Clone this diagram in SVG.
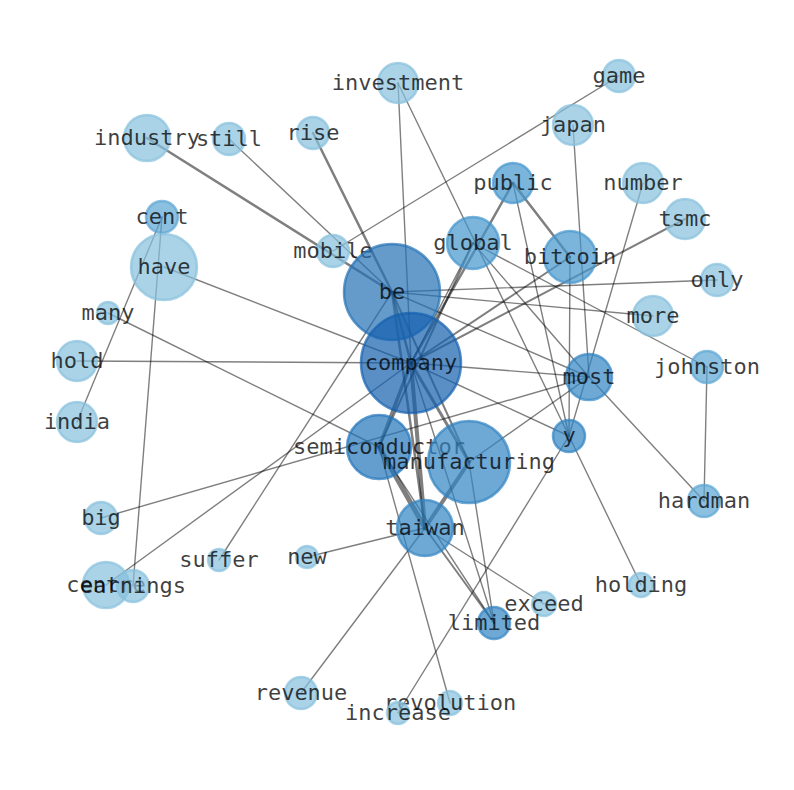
<svg xmlns="http://www.w3.org/2000/svg" width="794" height="790" viewBox="0 0 794 790">
<style>
.e line{stroke:#000;stroke-opacity:.5;stroke-width:1.4;stroke-linecap:round}
.n circle{stroke-width:2.5;fill-opacity:.7;stroke-opacity:.7}
.n text{font-family:"DejaVu Sans Mono","Liberation Mono",monospace;font-size:22px;fill:#000;fill-opacity:.75;text-anchor:middle}
.c0 circle{fill:#87c0dd;stroke:#87c0dd}
.c1 circle{fill:#5ba5d3;stroke:#5ba5d3}
.c2 circle{fill:#4596cd;stroke:#4596cd}
.c3 circle{fill:#3083c2;stroke:#3083c2}
.c4 circle{fill:#2275ba;stroke:#2275ba}
.c5 circle{fill:#2271b5;stroke:#2271b5}
.c6 circle{fill:#145fae;stroke:#145fae}
</style>
<rect width="794" height="790" fill="#fff"/>
<g id="edges" class="e">
<line x1="379" y1="447" x2="425" y2="528" style="stroke-width:5"/>
<line x1="411" y1="363" x2="425" y2="528" style="stroke-width:4"/>
<line x1="469" y1="462" x2="425" y2="528" style="stroke-width:4"/>
<line x1="411" y1="363" x2="379" y2="447" style="stroke-width:3.5"/>
<line x1="411" y1="363" x2="469" y2="462" style="stroke-width:3"/>
<line x1="392" y1="292" x2="411" y2="363" style="stroke-width:2.5"/>
<line x1="147" y1="138" x2="392" y2="292" style="stroke-width:2.5"/>
<line x1="313" y1="133" x2="392" y2="292" style="stroke-width:2.5"/>
<line x1="513" y1="183" x2="570" y2="257" style="stroke-width:2.5"/>
<line x1="513" y1="183" x2="411" y2="363" style="stroke-width:2.5"/>
<line x1="685" y1="219" x2="411" y2="363" style="stroke-width:2"/>
<line x1="570" y1="257" x2="411" y2="363" style="stroke-width:2"/>
<line x1="473" y1="243" x2="379" y2="447" style="stroke-width:2"/>
<line x1="425" y1="528" x2="494" y2="623" style="stroke-width:2"/>
<line x1="392" y1="292" x2="425" y2="528" style="stroke-width:2.5"/>
<line x1="392" y1="292" x2="469" y2="462" style="stroke-width:2"/>
<line x1="398" y1="83" x2="411" y2="363"/>
<line x1="398" y1="83" x2="569" y2="436"/>
<line x1="619" y1="76" x2="333" y2="251"/>
<line x1="229" y1="139" x2="392" y2="292"/>
<line x1="573" y1="125" x2="589" y2="377"/>
<line x1="513" y1="183" x2="569" y2="436"/>
<line x1="643" y1="183" x2="569" y2="436"/>
<line x1="570" y1="257" x2="569" y2="436"/>
<line x1="717" y1="280" x2="392" y2="292"/>
<line x1="653" y1="316" x2="392" y2="292"/>
<line x1="392" y1="292" x2="589" y2="377"/>
<line x1="473" y1="243" x2="707" y2="367"/>
<line x1="473" y1="243" x2="589" y2="377"/>
<line x1="473" y1="243" x2="411" y2="363"/>
<line x1="164" y1="267" x2="411" y2="363"/>
<line x1="77" y1="361" x2="411" y2="363"/>
<line x1="108" y1="313" x2="379" y2="447"/>
<line x1="162" y1="217" x2="77" y2="422"/>
<line x1="162" y1="217" x2="133" y2="586"/>
<line x1="106" y1="585" x2="411" y2="363"/>
<line x1="101" y1="518" x2="589" y2="377"/>
<line x1="219" y1="560" x2="392" y2="292"/>
<line x1="307" y1="557" x2="425" y2="528"/>
<line x1="301" y1="693" x2="425" y2="528"/>
<line x1="450" y1="703" x2="379" y2="447"/>
<line x1="398" y1="713" x2="569" y2="436"/>
<line x1="641" y1="585" x2="569" y2="436"/>
<line x1="544" y1="604" x2="425" y2="528"/>
<line x1="411" y1="363" x2="494" y2="623"/>
<line x1="469" y1="462" x2="494" y2="623"/>
<line x1="379" y1="447" x2="494" y2="623"/>
<line x1="411" y1="363" x2="589" y2="377"/>
<line x1="411" y1="363" x2="569" y2="436"/>
<line x1="469" y1="462" x2="589" y2="377"/>
<line x1="589" y1="377" x2="704" y2="501"/>
<line x1="707" y1="367" x2="704" y2="501"/>
</g>
<g id="investment" class="n c0"><circle cx="398" cy="83" r="20"/><text x="398" y="90">investment</text></g>
<g id="game" class="n c0"><circle cx="619" cy="76" r="16"/><text x="619" y="83">game</text></g>
<g id="industry" class="n c0"><circle cx="147" cy="138" r="23"/><text x="147" y="145">industry</text></g>
<g id="still" class="n c0"><circle cx="229" cy="139" r="16"/><text x="229" y="146">still</text></g>
<g id="rise" class="n c0"><circle cx="313" cy="133" r="16"/><text x="313" y="140">rise</text></g>
<g id="japan" class="n c0"><circle cx="573" cy="125" r="20"/><text x="573" y="132">japan</text></g>
<g id="public" class="n c2"><circle cx="513" cy="183" r="20"/><text x="513" y="190">public</text></g>
<g id="number" class="n c0"><circle cx="643" cy="183" r="20"/><text x="643" y="190">number</text></g>
<g id="tsmc" class="n c0"><circle cx="685" cy="219" r="20"/><text x="685" y="226">tsmc</text></g>
<g id="cent" class="n c1"><circle cx="162" cy="217" r="16"/><text x="162" y="224">cent</text></g>
<g id="global" class="n c2"><circle cx="473" cy="243" r="26"/><text x="473" y="250">global</text></g>
<g id="bitcoin" class="n c2"><circle cx="570" cy="257" r="26"/><text x="570" y="264">bitcoin</text></g>
<g id="mobile" class="n c0"><circle cx="333" cy="251" r="16"/><text x="333" y="258">mobile</text></g>
<g id="have" class="n c0"><circle cx="164" cy="267" r="33"/><text x="164" y="274">have</text></g>
<g id="only" class="n c0"><circle cx="717" cy="280" r="16"/><text x="717" y="287">only</text></g>
<g id="be" class="n c5"><circle cx="392" cy="292" r="48"/><text x="392" y="299">be</text></g>
<g id="many" class="n c0"><circle cx="108" cy="313" r="11"/><text x="108" y="320">many</text></g>
<g id="more" class="n c0"><circle cx="653" cy="316" r="20"/><text x="653" y="323">more</text></g>
<g id="company" class="n c6"><circle cx="411" cy="363" r="50"/><text x="411" y="370">company</text></g>
<g id="hold" class="n c0"><circle cx="77" cy="361" r="20"/><text x="77" y="368">hold</text></g>
<g id="johnston" class="n c1"><circle cx="707" cy="367" r="16"/><text x="707" y="374">johnston</text></g>
<g id="most" class="n c3"><circle cx="589" cy="377" r="23"/><text x="589" y="384">most</text></g>
<g id="india" class="n c0"><circle cx="77" cy="422" r="20"/><text x="77" y="429">india</text></g>
<g id="y" class="n c3"><circle cx="569" cy="436" r="16"/><text x="569" y="443">y</text></g>
<g id="semiconductor" class="n c4"><circle cx="379" cy="447" r="32"/><text x="379" y="454">semiconductor</text></g>
<g id="manufacturing" class="n c3"><circle cx="469" cy="462" r="41"/><text x="469" y="469">manufacturing</text></g>
<g id="big" class="n c0"><circle cx="101" cy="518" r="16"/><text x="101" y="525">big</text></g>
<g id="hardman" class="n c1"><circle cx="704" cy="501" r="16"/><text x="704" y="508">hardman</text></g>
<g id="taiwan" class="n c3"><circle cx="425" cy="528" r="28"/><text x="425" y="535">taiwan</text></g>
<g id="suffer" class="n c0"><circle cx="219" cy="560" r="11"/><text x="219" y="567">suffer</text></g>
<g id="new" class="n c0"><circle cx="307" cy="557" r="11"/><text x="307" y="564">new</text></g>
<g id="centre" class="n c0"><circle cx="106" cy="585" r="23"/><text x="106" y="592">centre</text></g>
<g id="earnings" class="n c0"><circle cx="133" cy="586" r="16"/><text x="133" y="593">earnings</text></g>
<g id="holding" class="n c0"><circle cx="641" cy="585" r="12"/><text x="641" y="592">holding</text></g>
<g id="exceed" class="n c0"><circle cx="544" cy="604" r="12"/><text x="544" y="611">exceed</text></g>
<g id="limited" class="n c3"><circle cx="494" cy="623" r="16"/><text x="494" y="630">limited</text></g>
<g id="revenue" class="n c0"><circle cx="301" cy="693" r="16"/><text x="301" y="700">revenue</text></g>
<g id="revolution" class="n c0"><circle cx="450" cy="703" r="12"/><text x="450" y="710">revolution</text></g>
<g id="increase" class="n c0"><circle cx="398" cy="713" r="11"/><text x="398" y="720">increase</text></g>
</svg>
